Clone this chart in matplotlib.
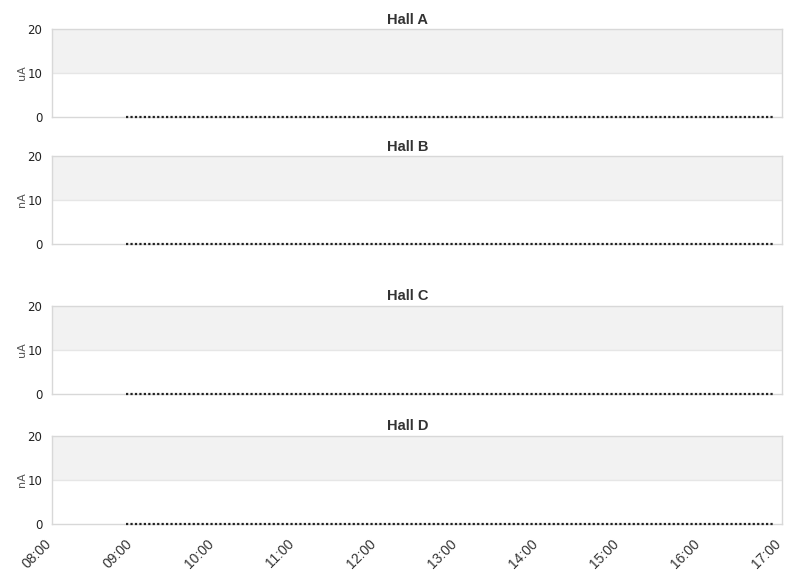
import matplotlib
matplotlib.use("Agg")
import matplotlib.pyplot as plt
import matplotlib.transforms as mtransforms
import pandas as pd

# ---- data ----
panel_titles = ["Hall A", "Hall B", "Hall C", "Hall D"]
panel_units = ["uA", "nA", "uA", "nA"]
x_start = "2024-01-01 08:00"
x_end = "2024-01-01 17:00"
series_start = "2024-01-01 08:55"
series_end = "2024-01-01 16:54"
times = pd.date_range(series_start, series_end, freq="1min")
values_a = [0.0] * len(times)
values_b = [0.0] * len(times)
values_c = [0.0] * len(times)
values_d = [0.0] * len(times)
series = [values_a, values_b, values_c, values_d]
y_ticks = [0, 10, 20]
x_tick_labels = ["08:00", "09:00", "10:00", "11:00", "12:00", "13:00",
                 "14:00", "15:00", "16:00", "17:00"]

W, H = 811, 578
fig = plt.figure(figsize=(W / 100, H / 100), dpi=100)

# panel pixel boxes: (top, bottom)
boxes = [(29, 117), (156, 244), (306, 394), (436, 524)]
title_y = [19.5, 146.5, 296.5, 426.5]
left_px, right_px = 52, 782

grid_col = "#e6e6e6"
spine_col = "#d8d8d8"
tick_times = pd.to_datetime(["2024-01-01 " + t for t in x_tick_labels])

for i, ((top, bot), ty) in enumerate(zip(boxes, title_y)):
    ax = fig.add_axes([left_px / W, 1 - bot / H, (right_px - left_px) / W, (bot - top) / H])
    ax.axhspan(10, 20, color="#f2f2f2", zorder=0, lw=0)
    ax.axhline(10, color=grid_col, lw=1, zorder=1)
    ax.plot(times, series[i], color="#222222", lw=1.6, ls=(0, (1, 1)), zorder=3,
            clip_on=False)
    ax.set_ylim(0, 20)
    ax.set_xlim(pd.Timestamp(x_start), pd.Timestamp(x_end))
    ax.set_yticks(y_ticks)
    ax.set_yticklabels([str(v) for v in y_ticks], family="DejaVu Sans",
                       fontsize=8.5, color="#222222")
    ax.tick_params(axis="y", length=0, pad=7)
    for s in ax.spines.values():
        s.set_color(spine_col)
        s.set_linewidth(1)
    ax.set_ylabel(panel_units[i], fontsize=8, color="#555555", family="DejaVu Sans")
    ax.yaxis.set_label_coords(-25 / (right_px - left_px), 0.5)
    ax.set_xticks(tick_times)
    if i == 3:
        labels = ax.set_xticklabels(x_tick_labels, rotation=45, ha="right",
                                    rotation_mode="anchor", fontsize=10,
                                    family="Liberation Sans", color="#333333")
        ax.tick_params(axis="x", length=0, pad=9)
        off = mtransforms.ScaledTranslation(-8 / 100, 0, fig.dpi_scale_trans)
        for lab in labels:
            lab.set_transform(lab.get_transform() + off)
    else:
        ax.tick_params(axis="x", length=0, labelbottom=False)
    fig.text(407.5 / W, 1 - ty / H, panel_titles[i], ha="center", va="center",
             fontsize=10.5, fontweight="bold", family="Liberation Sans",
             color="#333333")

fig.savefig("out.png", dpi=100, facecolor="white")
